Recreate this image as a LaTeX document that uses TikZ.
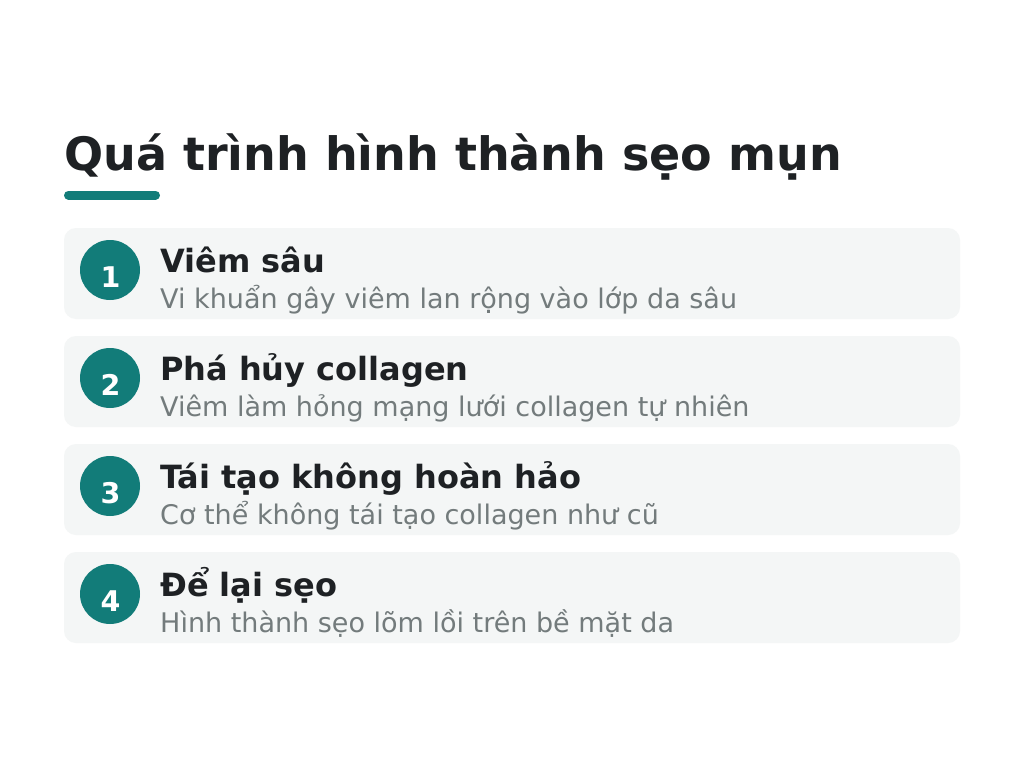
\documentclass[tikz,border=0pt]{standalone}
\usepackage{fontspec}
\setmainfont{DejaVu Sans}
\definecolor{teal1}{HTML}{127C79}
\definecolor{titlec}{HTML}{1E2124}
\definecolor{descc}{HTML}{737B7C}
\definecolor{boxc}{HTML}{F4F6F6}
\begin{document}
\begin{tikzpicture}[x=1bp,y=-1bp,
  card/.style={fill=boxc,draw=none,rounded corners=12bp},
  badge/.style={circle,fill=teal1,minimum size=60bp,inner sep=0pt},
  num/.style={anchor=base,text=white,font=\fontsize{28.5bp}{32bp}\selectfont\bfseries,inner sep=0pt},
  head/.style={anchor=base west,text=titlec,font=\fontsize{32bp}{38bp}\selectfont\bfseries,inner sep=0pt},
  desc/.style={anchor=base west,text=descc,font=\fontsize{27bp}{32bp}\selectfont,inner sep=0pt}]
\useasboundingbox (0,0) rectangle (1024,768);
\fill[white] (0,0) rectangle (1024,768);
\node[anchor=base west,inner sep=0pt,text=titlec,font=\fontsize{46bp}{54bp}\selectfont\bfseries] (title) at (64,170) {Quá trình hình thành sẹo mụn};
\draw[teal1,line width=9bp,line cap=round] (68.5,195) -- (155.5,195);
\foreach \i/\h/\d [count=\k from 0] in {1/Viêm sâu/Vi khuẩn gây viêm lan rộng vào lớp da sâu,
  2/Phá hủy collagen/Viêm làm hỏng mạng lưới collagen tự nhiên,
  3/Tái tạo không hoàn hảo/Cơ thể không tái tạo collagen như cũ,
  4/Để lại sẹo/Hình thành sẹo lõm lồi trên bề mặt da}{
  \pgfmathsetmacro{\t}{228+108*\k}
  \fill[card] (64,\t) rectangle (960,\t+91);
  \node[badge] (c\i) at (110,\t+42) {};
  \node[num] (n\i) at (110.5,\t+59) {\i};
  \node[head] (h\i) at (160,\t+44) {\h};
  \node[desc] (d\i) at (160,\t+80) {\d};
}
\end{tikzpicture}
\end{document}
